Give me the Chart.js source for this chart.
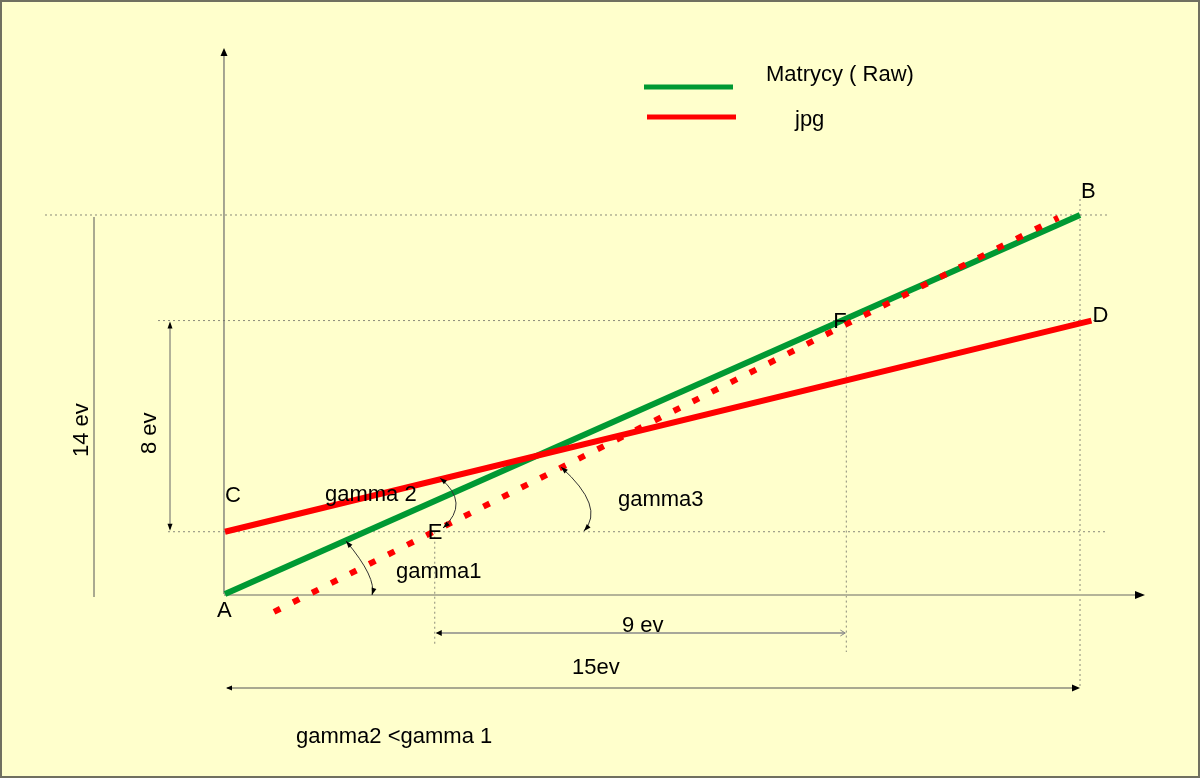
<!DOCTYPE html>
<html>
<head>
<meta charset="utf-8">
<script src="https://cdn.jsdelivr.net/npm/chart.js@4.4.1/dist/chart.umd.min.js"></script>
<style>
html,body{margin:0;padding:0;background:#FFFFCC;}
#wrap{width:1200px;height:778px;position:relative;}
</style>
</head>
<body>
<div id="wrap"><canvas id="c" width="1200" height="778"></canvas></div>
<script>
// ---- data (ev units) ----
const rawX = [0, 15];
const rawY = [0, 14];
const jpgX = [0, 15.2];
const jpgY = [2.3, 10.1];
const jpgShiftX = [0.86, 14.62];
const jpgShiftY = [-0.66, 13.9];
const pointE = [3.68, 2.3];
const pointF = [10.9, 10.1];
const seriesNames = ['Matrycy ( Raw)', 'jpg'];
const pointLabels = ['A', 'B', 'C', 'D', 'E', 'F'];
const evLabels = ['14 ev', '8 ev', '9 ev', '15ev'];
const gammaLabels = ['gamma1', 'gamma 2', 'gamma3'];
const noteText = 'gamma2 <gamma 1';

function pts(xs, ys){ return xs.map((x,i)=>({x:x, y:ys[i]})); }

const GREEN = '#009933', RED = '#FF0000';

function arrowHead(ctx, x, y, ang, len, wid, filled){
  ctx.save();
  ctx.translate(x,y); ctx.rotate(ang);
  ctx.beginPath();
  ctx.moveTo(0,0); ctx.lineTo(-len, -wid/2);
  if(filled){ ctx.lineTo(-len, wid/2); ctx.closePath(); ctx.fill(); }
  else { ctx.moveTo(0,0); ctx.lineTo(-len, wid/2); ctx.stroke(); }
  ctx.restore();
}
function line(ctx, x1,y1,x2,y2){ ctx.beginPath(); ctx.moveTo(x1,y1); ctx.lineTo(x2,y2); ctx.stroke(); }

const deco = {
  id:'deco',
  beforeDraw(chart){
    const ctx = chart.ctx;
    ctx.save();
    ctx.fillStyle = '#FFFFCC';
    ctx.fillRect(0,0,chart.width,chart.height);
    ctx.restore();
  },
  beforeDatasetsDraw(chart){
    const ctx = chart.ctx, xs = chart.scales.x, ys = chart.scales.y;
    const X = v=>xs.getPixelForValue(v), Y = v=>ys.getPixelForValue(v);
    const ax = X(rawX[0]), ay = Y(rawY[0]);
    const bx = X(rawX[1]), by = Y(rawY[1]);
    const cy = Y(jpgY[0]), dy = Y(jpgY[1]);
    const ex = X(pointE[0]), fx = X(pointF[0]);
    ctx.save();
    // dotted guides
    ctx.strokeStyle = '#8a8a7a'; ctx.lineWidth = 1; ctx.setLineDash([2,3]);
    line(ctx, 45, by, 1108, by);
    line(ctx, 158, dy, 1100, dy);
    line(ctx, 168, cy, 1105, cy);
    line(ctx, ex, cy, ex, 645);
    line(ctx, fx, dy, fx, 652);
    line(ctx, bx, 199, bx, 688);
    ctx.setLineDash([]);
    // y axis
    ctx.strokeStyle = '#6a6a6a'; ctx.fillStyle = '#000'; ctx.lineWidth = 1.2;
    line(ctx, ax-1, ay, ax-1, 54);
    arrowHead(ctx, ax-1, 48, -Math.PI/2, 8, 7, true);
    // x axis
    ctx.strokeStyle = '#b4b498'; ctx.lineWidth = 2;
    line(ctx, ax-1, ay+1, 1136, ay+1);
    arrowHead(ctx, 1145, ay+1, 0, 10, 8, true);
    // 14 ev line
    ctx.strokeStyle = '#555'; ctx.lineWidth = 1;
    line(ctx, 94, 217, 94, 597);
    // 8 ev arrow
    ctx.strokeStyle = '#666';
    line(ctx, 170, dy+3, 170, cy-3);
    arrowHead(ctx, 170, dy+1, -Math.PI/2, 7, 5, true);
    arrowHead(ctx, 170, cy-1, Math.PI/2, 7, 5, true);
    // 9 ev arrow
    ctx.strokeStyle = '#8a8a8a'; ctx.lineWidth = 1.5;
    line(ctx, ex+2, 633, fx-2, 633);
    arrowHead(ctx, ex+1, 633, Math.PI, 6, 6, true);
    ctx.lineWidth = 1;
    arrowHead(ctx, fx-1, 633, 0, 5, 6, false);
    // 15 ev arrow
    ctx.strokeStyle = '#555'; ctx.lineWidth = 1.2;
    line(ctx, ax+2, 688, bx-6, 688);
    arrowHead(ctx, ax+1, 688, Math.PI, 6, 5, true);
    arrowHead(ctx, bx, 688, 0, 8, 7, true);
    ctx.restore();
  },
  afterDatasetsDraw(chart){
    const ctx = chart.ctx, xs = chart.scales.x, ys = chart.scales.y;
    const X = v=>xs.getPixelForValue(v), Y = v=>ys.getPixelForValue(v);
    ctx.save();
    // legend
    ctx.lineWidth = 5; ctx.lineCap = 'butt';
    ctx.strokeStyle = GREEN; line(ctx, 644, 87, 733, 87);
    ctx.strokeStyle = RED; line(ctx, 647, 117, 736, 117);
    ctx.fillStyle = '#000';
    ctx.font = '22px "Liberation Sans", Arial, sans-serif';
    ctx.textBaseline = 'alphabetic'; ctx.textAlign = 'left';
    ctx.fillText(seriesNames[0], 766, 81);
    ctx.fillText(seriesNames[1], 795, 126);
    // point labels
    ctx.fillText(pointLabels[0], X(rawX[0]) - 8, 617);
    ctx.fillText(pointLabels[1], X(rawX[1]) + 1, Y(rawY[1]) - 17);
    ctx.fillText(pointLabels[2], X(jpgX[0]) + 0, Y(jpgY[0]) - 30);
    ctx.fillText(pointLabels[3], X(jpgX[1]) + 1, Y(jpgY[1]) + 1);
    ctx.fillText(pointLabels[4], X(pointE[0]) - 7, Y(pointE[1]) + 7);
    ctx.fillText(pointLabels[5], X(pointF[0]) - 13, Y(pointF[1]) + 7);
    // gamma labels
    ctx.fillText(gammaLabels[0], 396, 578);
    ctx.fillText(gammaLabels[1], 325, 501);
    ctx.fillText(gammaLabels[2], 618, 506);
    // ev labels
    ctx.fillText(evLabels[2], 622, 632);
    ctx.fillText(evLabels[3], 572, 674);
    ctx.fillText(noteText, 296, 743);
    ctx.save(); ctx.translate(88, 457); ctx.rotate(-Math.PI/2); ctx.fillText(evLabels[0], 0, 0); ctx.restore();
    ctx.save(); ctx.translate(156, 454); ctx.rotate(-Math.PI/2); ctx.fillText(evLabels[1], 0, 0); ctx.restore();
    // arcs
    const arcs = [
      [[346,541],[368,573],[372,595]],
      [[440,478],[456,503],[443,528]],
      [[561,467],[589,503],[584,531]]
    ];
    ctx.strokeStyle = '#333'; ctx.fillStyle = '#000'; ctx.lineWidth = 1;
    arcs.forEach(a=>{
      const S=a[0], M=a[1], E=a[2];
      const P=[2*M[0]-(S[0]+E[0])/2, 2*M[1]-(S[1]+E[1])/2];
      ctx.beginPath(); ctx.moveTo(S[0],S[1]); ctx.quadraticCurveTo(P[0],P[1],E[0],E[1]); ctx.stroke();
      arrowHead(ctx, S[0], S[1], Math.atan2(S[1]-P[1], S[0]-P[0]), 7, 5, true);
      arrowHead(ctx, E[0], E[1], Math.atan2(E[1]-P[1], E[0]-P[0]), 7, 5, true);
    });
    // border
    ctx.strokeStyle = '#707060'; ctx.lineWidth = 2;
    ctx.strokeRect(1, 1, chart.width-2, chart.height-2);
    ctx.restore();
  }
};

new Chart(document.getElementById('c'), {
  type: 'scatter',
  data: {
    datasets: [
      { label: seriesNames[1] + ' shifted', data: pts(jpgShiftX, jpgShiftY), showLine: true,
        borderColor: RED, borderWidth: 6, borderDash: [7, 14.3], borderCapStyle: 'butt',
        pointRadius: 0, order: 0 },
      { label: seriesNames[1], data: pts(jpgX, jpgY), showLine: true,
        borderColor: RED, borderWidth: 6, pointRadius: 0, order: 1 },
      { label: seriesNames[0], data: pts(rawX, rawY), showLine: true,
        borderColor: GREEN, borderWidth: 6, pointRadius: 0, order: 2 }
    ]
  },
  options: {
    responsive: false, animation: false,
    layout: { padding: 0 },
    plugins: { legend: { display: false }, tooltip: { enabled: false } },
    scales: {
      x: { type: 'linear', display: false, min: -3.947, max: 17.105 },
      y: { type: 'linear', display: false, min: -6.797, max: 21.942 }
    }
  },
  plugins: [deco]
});
</script>
</body>
</html>
